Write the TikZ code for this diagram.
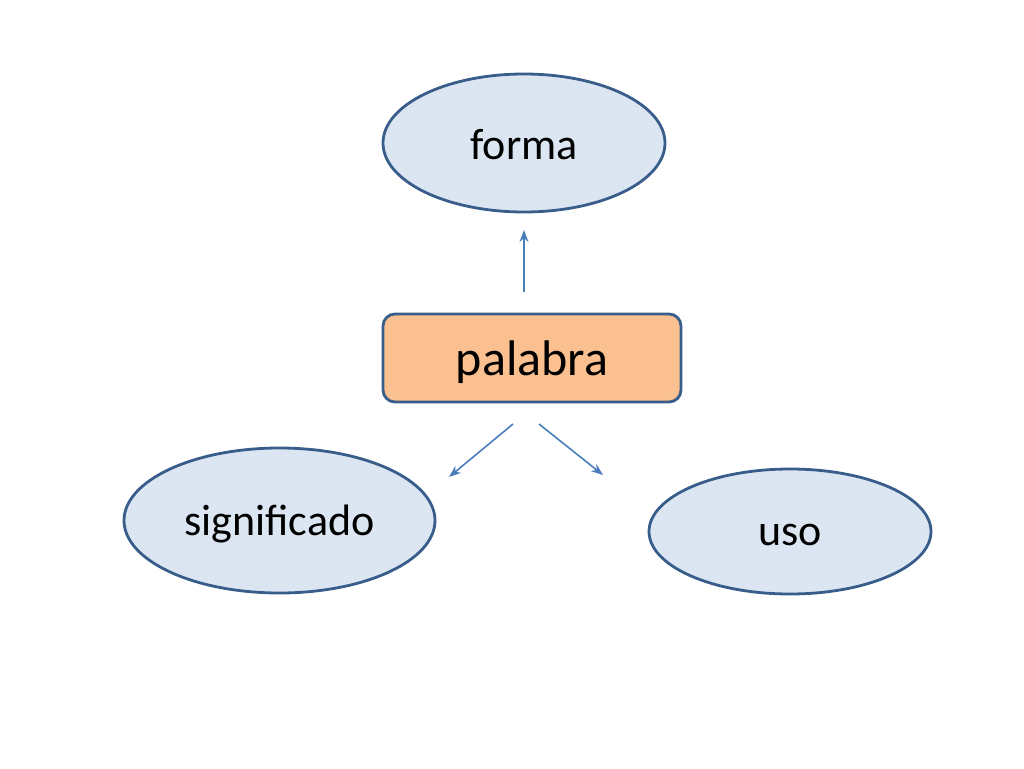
\documentclass[tikz,border=0pt]{standalone}
\usepackage{fontspec}
\setmainfont{Carlito}
\usetikzlibrary{shapes.geometric,arrows.meta}
\definecolor{ellfill}{HTML}{DCE6F2}
\definecolor{edge}{HTML}{385D8A}
\definecolor{boxfill}{HTML}{FAC090}
\definecolor{arrowc}{HTML}{4A7EBB}
\newcommand{\lowtext}[2]{\raisebox{-#1}[\height][\depth]{#2}}
\tikzset{
  ell/.style={ellipse, draw=edge, fill=ellfill, line width=2.8pt, inner sep=0pt, font=\fontsize{44}{50}\selectfont},
  boxnode/.style={rectangle, rounded corners=12pt, draw=edge, fill=boxfill, line width=2.8pt, inner sep=0pt, font=\fontsize{50}{56}\selectfont},
  conn/.style={draw=arrowc, line width=1.6pt, -{Stealth[length=12pt,width=9pt]}}
}
\begin{document}
\begin{tikzpicture}[x=1pt,y=-1pt]
\useasboundingbox (0,0) rectangle (1024,768);
\node[ell, minimum width=282pt, minimum height=138pt] (forma) at (524,143) {\lowtext{2pt}{forma}};
\node[boxnode, minimum width=298pt, minimum height=88pt] (palabra) at (532,358) {\lowtext{4pt}{palabra}};
\node[ell, minimum width=311pt, minimum height=145pt] (sig) at (279.5,520.5) {\lowtext{3pt}{significado}};
\node[ell, minimum width=282pt, minimum height=125pt] (uso) at (790,531.5) {\lowtext{3pt}{uso}};
\coordinate (a1s) at (524,292);
\coordinate (a1e) at (524,230);
\coordinate (a2s) at (513,424);
\coordinate (a2e) at (449,477);
\coordinate (a3s) at (539,424);
\coordinate (a3e) at (603,475);
\draw[conn] (a1s) -- (a1e);
\draw[conn] (a2s) -- (a2e);
\draw[conn] (a3s) -- (a3e);
\end{tikzpicture}
\end{document}
